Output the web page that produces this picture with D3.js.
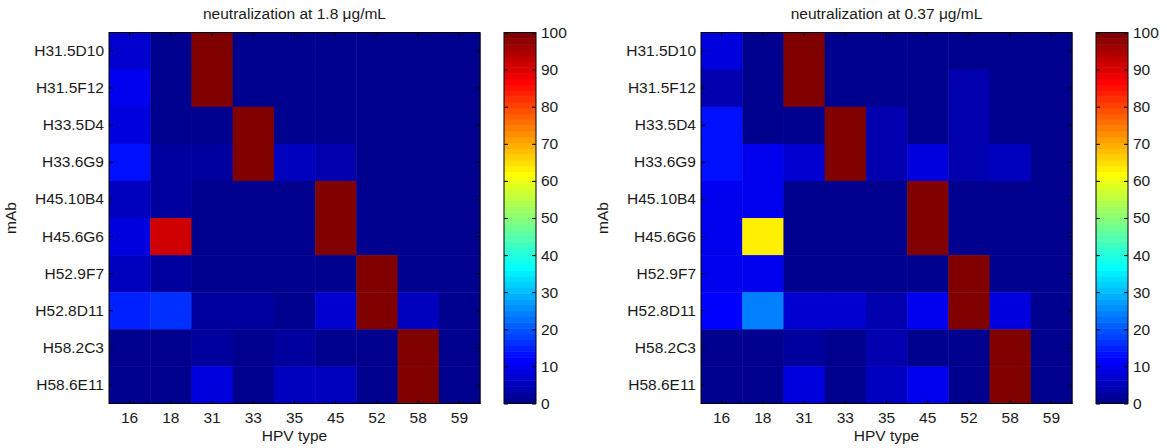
<!DOCTYPE html>
<html><head><meta charset="utf-8">
<script src="https://cdn.jsdelivr.net/npm/d3@7"></script>
<style>
body{margin:0;background:#fff;}
text{font-family:"Liberation Sans",Arial,Helvetica,sans-serif;fill:#1a1a1a;}
</style></head>
<body><svg id="c" width="1167" height="448"></svg>
<script>
const hpvTypes = ["16","18","31","33","35","45","52","58","59"];
const mAbs = ["H31.5D10","H31.5F12","H33.5D4","H33.6G9","H45.10B4","H45.6G6","H52.9F7","H52.8D11","H58.2C3","H58.6E11"];
const titles = ["neutralization at 1.8 \u03bcg/mL","neutralization at 0.37 \u03bcg/mL"];
const colorbarTicks = [0,10,20,30,40,50,60,70,80,90,100];

// rows = mAbs, columns = HPV types (percent neutralization)
const neut18 = [
  [7, 1, 100, 0.5, 0.5, 0.5, 0.5, 0.5, 0.5],
  [10, 1, 100, 0.5, 0.5, 0.5, 0.5, 0.5, 0.5],
  [8, 1, 0.5, 100, 0.5, 0.5, 0.5, 0.5, 0.5],
  [13, 3, 3, 100, 6, 3.5, 0.5, 0.5, 0.5],
  [5, 3, 1, 1, 1, 100, 0.5, 0.5, 0.5],
  [8.5, 91, 1, 1, 1, 100, 0.5, 0.5, 0.5],
  [6, 2.5, 1, 1, 1, 1, 100, 0.5, 0.5],
  [15, 16.5, 3, 3, 1.5, 6.5, 100, 5, 1],
  [0.5, 0.5, 2.5, 1, 3, 1.5, 1, 100, 1],
  [0.5, 0.5, 9, 1, 6, 6, 1, 100, 1]
];
const neut037 = [
  [9, 0.5, 100, 0.5, 0.5, 0.5, 0.5, 0.5, 0.5],
  [4.5, 0.5, 100, 0.5, 0.5, 0.5, 3.5, 0.5, 0.5],
  [14, 0.5, 0.5, 100, 3.5, 0.5, 3.5, 0.5, 0.5],
  [14, 9.5, 7.5, 100, 3.5, 8.5, 3.5, 6, 1],
  [10, 10, 0.5, 0.5, 0.5, 100, 0.5, 0.5, 0.5],
  [9.5, 63, 0.5, 0.5, 0.5, 100, 0.5, 0.5, 0.5],
  [9.5, 9.5, 0.5, 0.5, 0.5, 0.5, 100, 0.5, 0.5],
  [12, 24, 7.5, 7.5, 4.5, 10, 100, 9, 1],
  [0.5, 0.5, 2.5, 1, 4, 1, 1, 100, 1],
  [0.5, 0.5, 9, 1, 5.5, 10, 1, 100, 1]
];

// MATLAB jet(64) colormap
function jet(m){
  const n = Math.ceil(m/4);
  const u = [];
  for(let i=1;i<=n;i++) u.push(i/n);
  for(let i=1;i<n;i++) u.push(1);
  for(let i=n;i>=1;i--) u.push(i/n);
  const off = Math.ceil(n/2) - (m%4===1?1:0);
  const J = Array.from({length:m},()=>[0,0,0]);
  const g = u.map((_,i)=>off+i+1);
  const r = g.map(v=>v+n).filter(v=>v<=m);
  const gg = g.filter(v=>v<=m);
  const b = g.map(v=>v-n).filter(v=>v>=1);
  r.forEach((row,i)=>J[row-1][0]=u[i]);
  gg.forEach((row,i)=>J[row-1][1]=u[i]);
  b.forEach((row,i)=>J[row-1][2]=u[u.length-b.length+i]);
  return J.map(c=>d3.rgb(c[0]*255,c[1]*255,c[2]*255).formatHex());
}
const cmap = jet(64);
const color = d3.scaleQuantize().domain([0,100]).range(cmap);

const svg = d3.select("#c");
const panels = [
  {data: neut18, title: titles[0], x0: 109, x1: 480, cb0: 504, cb1: 536},
  {data: neut037, title: titles[1], x0: 701, x1: 1072, cb0: 1096, cb1: 1128}
];
const y0 = 32.5, y1 = 403.5;
const fs = "15.5px";

panels.forEach(p=>{
  const g = svg.append("g");
  const x = d3.scaleBand().domain(hpvTypes).range([p.x0,p.x1]);
  const y = d3.scaleBand().domain(mAbs).range([y0,y1]);
  const cells = [];
  p.data.forEach((row,i)=>row.forEach((v,j)=>cells.push({r:mAbs[i],c:hpvTypes[j],v})));
  g.selectAll("rect.cell").data(cells).join("rect").attr("class","cell")
    .attr("x",d=>x(d.c)).attr("y",d=>y(d.r))
    .attr("width",x.bandwidth()+0.5).attr("height",y.bandwidth()+0.5)
    .attr("fill",d=>color(d.v));

  const styleAxis = (sel, labels)=>{
    sel.select(".domain").remove();
    sel.selectAll(".tick line").attr("stroke","#000");
    sel.selectAll(".tick text").style("font-size",fs).attr("fill","#1a1a1a");
    if(!labels) sel.selectAll(".tick text").remove();
  };
  g.append("g").attr("transform",`translate(${p.x0},0)`)
    .call(d3.axisLeft(y).tickSize(-4).tickPadding(5)).call(s=>styleAxis(s,true));
  g.append("g").attr("transform",`translate(${p.x1},0)`)
    .call(d3.axisRight(y).tickSize(-4)).call(s=>styleAxis(s,false));
  g.append("g").attr("transform",`translate(0,${y1})`)
    .call(d3.axisBottom(x).tickSize(-4).tickPadding(8)).call(s=>styleAxis(s,true));
  g.append("g").attr("transform",`translate(0,${y0})`)
    .call(d3.axisTop(x).tickSize(-4)).call(s=>styleAxis(s,false));
  g.append("rect").attr("x",p.x0).attr("y",y0).attr("width",p.x1-p.x0).attr("height",y1-y0)
    .attr("fill","none").attr("stroke","#000").attr("stroke-width",1);

  g.append("text").attr("x",(p.x0+p.x1)/2).attr("y",19).attr("text-anchor","middle")
    .style("font-size",fs).text(p.title);
  g.append("text").attr("x",(p.x0+p.x1)/2).attr("y",441).attr("text-anchor","middle")
    .style("font-size",fs).text("HPV type");
  g.append("text").attr("transform",`translate(${p.x0-93},${(y0+y1)/2}) rotate(-90)`)
    .attr("text-anchor","middle").style("font-size",fs).text("mAb");

  // colorbar
  const cy = d3.scaleLinear().domain([0,100]).range([y1,y0]);
  const step = 100/cmap.length;
  g.selectAll("rect.cb").data(cmap).join("rect").attr("class","cb")
    .attr("x",p.cb0).attr("width",p.cb1-p.cb0)
    .attr("y",(d,i)=>cy((i+1)*step)).attr("height",(d,i)=>cy(i*step)-cy((i+1)*step)+0.5)
    .attr("fill",d=>d);
  g.append("g").attr("transform",`translate(${p.cb1},0)`)
    .call(d3.axisRight(cy).tickValues(colorbarTicks).tickSize(-4).tickPadding(5)).call(s=>styleAxis(s,true));
  g.append("g").attr("transform",`translate(${p.cb0},0)`)
    .call(d3.axisLeft(cy).tickValues(colorbarTicks).tickSize(-4)).call(s=>styleAxis(s,false));
  g.append("rect").attr("x",p.cb0).attr("y",y0).attr("width",p.cb1-p.cb0).attr("height",y1-y0)
    .attr("fill","none").attr("stroke","#000").attr("stroke-width",1);
});
</script></body></html>
